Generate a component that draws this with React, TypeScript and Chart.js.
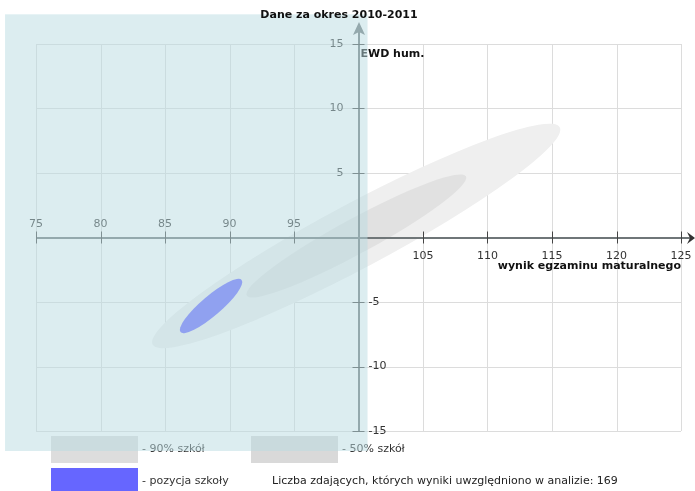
import React, { useEffect, useRef } from "react";
import { Chart, registerables } from "chart.js";
Chart.register(...registerables);

const xTicks = [75, 80, 85, 90, 95, 100, 105, 110, 115, 120, 125];
const yTicks = [-15, -10, -5, 0, 5, 10, 15];
const ellipseNames = ["90% szkół", "50% szkół", "pozycja szkoły"];
const ellipseCenterX = [99.82, 99.83, 88.57];
const ellipseCenterY = [0.12, 0.12, -5.31];
const ellipseTipX = [115.6, 108.33, 90.94];
const ellipseTipY = [8.54, 4.74, -3.29];
const ellipseHalfWidth = [2.5, 1.36, 0.77];
const ellipseColors = ["#efefef", "#e1e1e1", "#6666ff"];
const highlightX = [72.6, 100.7];
const highlightY = [-16.55, 17.3];
const titleText = "Dane za okres 2010-2011";
const yAxisTitle = "EWD hum.";
const xAxisTitle = "wynik egzaminu maturalnego";
const sampleCount = 169;

const FONT = "'DejaVu Sans', sans-serif";

const drawPlugin = {
  id: "ewdDraw",
  afterDraw(chart: any) {
    const ctx: CanvasRenderingContext2D = chart.ctx;
    const xs = chart.scales.x;
    const ys = chart.scales.y;
    const px = (v: number) => xs.getPixelForValue(v);
    const py = (v: number) => ys.getPixelForValue(v);
    const x0 = px(100);
    const y0 = py(0);
    ctx.save();

    // grid
    ctx.strokeStyle = "#dcdcdc";
    ctx.lineWidth = 1;
    ctx.beginPath();
    for (const t of xTicks) {
      const x = Math.round(px(t)) + 0.5;
      ctx.moveTo(x, py(15));
      ctx.lineTo(x, py(-15));
    }
    for (const t of yTicks) {
      const y = Math.round(py(t)) + 0.5;
      ctx.moveTo(px(75), y);
      ctx.lineTo(px(125), y);
    }
    ctx.stroke();

    // ellipses
    for (let i = 0; i < ellipseNames.length; i++) {
      const cx = px(ellipseCenterX[i]);
      const cy = py(ellipseCenterY[i]);
      const tx = px(ellipseTipX[i]);
      const ty = py(ellipseTipY[i]);
      const a = Math.hypot(tx - cx, ty - cy);
      const b = Math.abs(py(0) - py(ellipseHalfWidth[i]));
      const rot = Math.atan2(ty - cy, tx - cx);
      ctx.fillStyle = ellipseColors[i];
      ctx.beginPath();
      ctx.ellipse(cx, cy, a, b, rot, 0, Math.PI * 2);
      ctx.fill();
    }

    // axes
    ctx.strokeStyle = "#6f7678";
    ctx.lineWidth = 2;
    ctx.beginPath();
    ctx.moveTo(px(75), Math.round(y0));
    ctx.lineTo(690, Math.round(y0));
    ctx.moveTo(Math.round(x0), py(-15));
    ctx.lineTo(Math.round(x0), 28);
    ctx.stroke();
    // arrows
    ctx.fillStyle = "#6f7678";
    ctx.beginPath();
    ctx.moveTo(Math.round(x0), 22);
    ctx.lineTo(Math.round(x0) + 6, 35);
    ctx.lineTo(Math.round(x0), 32);
    ctx.lineTo(Math.round(x0) - 6, 35);
    ctx.closePath();
    ctx.fill();
    ctx.fillStyle = "#333";
    ctx.beginPath();
    ctx.moveTo(695, Math.round(y0));
    ctx.lineTo(687, Math.round(y0) - 6);
    ctx.lineTo(690, Math.round(y0));
    ctx.lineTo(687, Math.round(y0) + 6);
    ctx.closePath();
    ctx.fill();

    // ticks
    ctx.strokeStyle = "#444";
    ctx.lineWidth = 1;
    ctx.beginPath();
    for (const t of xTicks) {
      if (t === 100) continue;
      const x = Math.round(px(t)) + 0.5;
      ctx.moveTo(x, y0 - 6);
      ctx.lineTo(x, y0 + 6);
    }
    for (const t of yTicks) {
      if (t === 0) continue;
      const y = Math.round(py(t)) + 0.5;
      ctx.moveTo(x0 - 6, y);
      ctx.lineTo(x0 + 6, y);
    }
    ctx.stroke();

    // tick labels
    ctx.fillStyle = "#333";
    ctx.font = `11px ${FONT}`;
    ctx.textAlign = "center";
    ctx.textBaseline = "alphabetic";
    for (const t of xTicks) {
      if (t === 100) continue;
      const x = px(t);
      if (t < 100) ctx.fillText(String(t), x, y0 - 11);
      else ctx.fillText(String(t), x, y0 + 21);
    }
    ctx.textBaseline = "middle";
    for (const t of yTicks) {
      if (t === 0) continue;
      const y = py(t);
      if (t > 0) {
        ctx.textAlign = "right";
        ctx.fillText(String(t), x0 - 15, y);
      } else {
        ctx.textAlign = "left";
        ctx.fillText(String(t), x0 + 10, y);
      }
    }

    // axis titles
    ctx.fillStyle = "#111";
    ctx.font = `bold 11px ${FONT}`;
    ctx.textBaseline = "alphabetic";
    ctx.textAlign = "left";
    ctx.fillText(yAxisTitle, x0 + 2, 57);
    ctx.textAlign = "right";
    ctx.fillText(xAxisTitle, px(125), y0 + 31);

    // legend
    const boxes = [
      { x: 51, y: 436, w: 87, h: 27, c: "#dddddd", label: "- " + ellipseNames[0], tx: 142, ty: 449 },
      { x: 251, y: 436, w: 87, h: 27, c: "#d9d9d9", label: "- " + ellipseNames[1], tx: 342, ty: 449 },
      { x: 51, y: 468, w: 87, h: 25, c: ellipseColors[2], label: "- " + ellipseNames[2], tx: 142, ty: 481 },
    ];
    ctx.font = `11px ${FONT}`;
    ctx.textBaseline = "middle";
    ctx.textAlign = "left";
    for (const bx of boxes) {
      ctx.fillStyle = bx.c;
      ctx.fillRect(bx.x, bx.y, bx.w, bx.h);
      ctx.fillStyle = "#333";
      ctx.fillText(bx.label, bx.tx, bx.ty);
    }
    ctx.fillStyle = "#222";
    ctx.fillText(
      `Liczba zdających, których wyniki uwzględniono w analizie: ${sampleCount}`,
      272,
      481
    );

    // highlight overlay
    ctx.fillStyle = "rgba(185, 219, 225, 0.5)";
    const rx1 = px(highlightX[0]);
    const rx2 = px(highlightX[1]);
    const ry1 = py(highlightY[1]);
    const ry2 = py(highlightY[0]);
    ctx.fillRect(rx1, ry1, rx2 - rx1, ry2 - ry1);

    // title
    ctx.fillStyle = "#111";
    ctx.font = `bold 11px ${FONT}`;
    ctx.textAlign = "center";
    ctx.textBaseline = "alphabetic";
    ctx.fillText(titleText, 339, 18);

    ctx.restore();
  },
};

export default function App() {
  const ref = useRef<HTMLCanvasElement | null>(null);
  useEffect(() => {
    if (!ref.current) return;
    const chart = new Chart(ref.current, {
      type: "scatter",
      data: {
        datasets: [
          {
            label: "centers",
            data: ellipseCenterX.map((x, i) => ({ x, y: ellipseCenterY[i] })),
            pointRadius: 0,
            showLine: false,
          },
        ],
      },
      options: {
        responsive: false,
        animation: false,
        devicePixelRatio: 1,
        layout: { padding: { left: 36, right: 14, top: 44, bottom: 60 } },
        scales: {
          x: { type: "linear", min: 75, max: 125, display: false },
          y: { type: "linear", min: -15, max: 15, display: false },
        },
        plugins: { legend: { display: false }, tooltip: { enabled: false }, title: { display: false } },
      },
      plugins: [drawPlugin],
    });
    return () => chart.destroy();
  }, []);
  return (
    <div style={{ position: "fixed", left: 0, top: 0, width: 695, height: 491, background: "#fff" }}>
      <canvas ref={ref} width={695} height={491} style={{ width: 695, height: 491 }} />
    </div>
  );
}
